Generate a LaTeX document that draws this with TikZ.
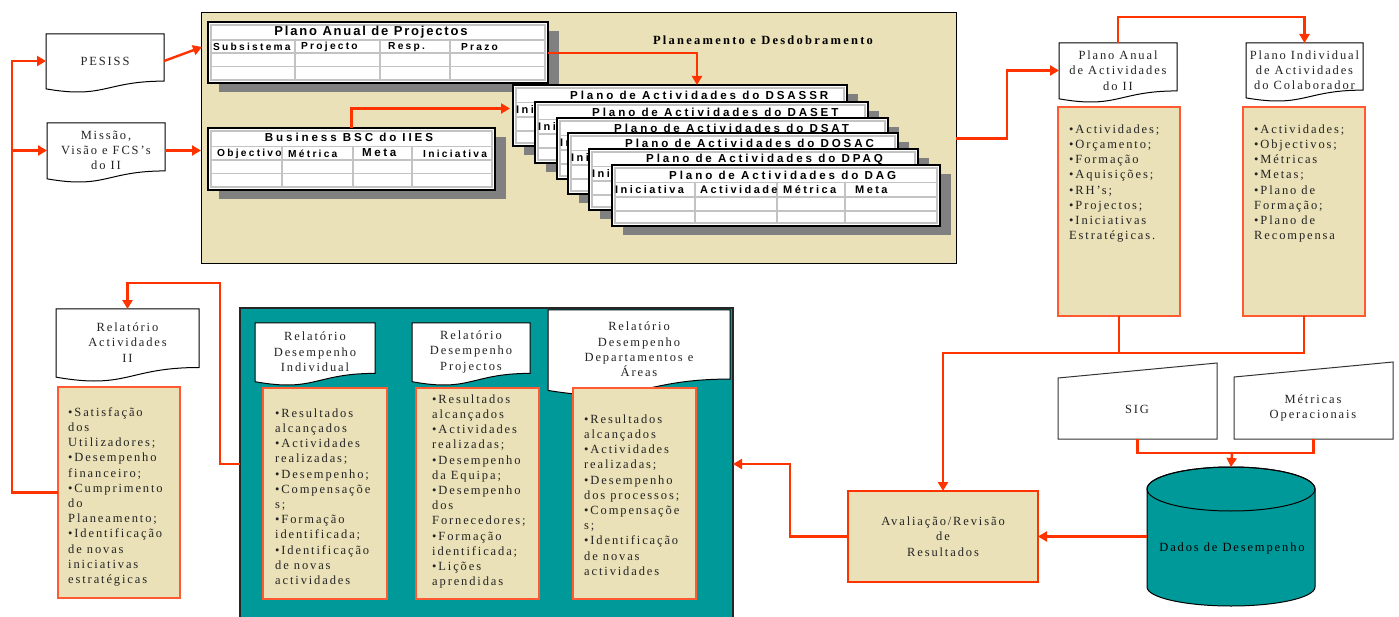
\documentclass[tikz,border=0pt]{standalone}
\usepackage{fontspec}
\setmainfont{Liberation Serif}
\newfontfamily\serifT[LetterSpace=15]{Liberation Serif}
\newfontfamily\serifB[LetterSpace=18]{Liberation Serif}
\newfontfamily\sansT[LetterSpace=25]{Liberation Sans}
\newfontfamily\sansP[LetterSpace=14]{Liberation Sans}
\newfontfamily\sansH[LetterSpace=22]{Liberation Sans}
\usetikzlibrary{arrows.meta,calc}

\definecolor{beige}{RGB}{234,225,184}
\definecolor{connred}{RGB}{255,51,0}
\definecolor{boxorange}{RGB}{255,90,50}
\definecolor{tealfill}{RGB}{0,153,153}
\definecolor{shadowgray}{RGB}{128,128,128}
\definecolor{gridgray}{RGB}{195,195,195}
\definecolor{inkgray}{RGB}{35,35,35}

\tikzset{
  conn/.style={draw=connred, line width=2.4pt, line join=miter},
  arr/.style={-{Triangle[length=9pt,width=10pt]}},
  hit/.style={inner sep=0pt, outer sep=0pt, draw=none, anchor=north west},
  docpath/.style={fill=white, draw=black, line width=1pt},
  serifsmall/.style={font=\serifT\fontsize{12.5}{15.3}\selectfont, text=inkgray},
  doctext/.style={serifsmall, align=center, inner sep=0pt, outer sep=0pt},
  beigebox/.style={fill=beige, draw=boxorange, line width=1.2pt, inner sep=0pt, outer sep=0pt, anchor=north west},
  boxtext/.style={font=\serifT\fontsize{12.5}{15.2}\selectfont, text=inkgray, align=left, inner sep=0pt, anchor=north west},
  planframe/.style={fill=beige, draw=black, line width=1pt, inner sep=0pt, outer sep=0pt, anchor=north west},
  tealframe/.style={fill=tealfill, draw=black!85, line width=1.2pt, inner sep=0pt, outer sep=0pt, anchor=north west},
  avalbox/.style={fill=beige, draw=connred, line width=2.2pt, inner sep=0pt, outer sep=0pt, anchor=north west,
    font=\serifT\fontsize{12.5}{15.5}\selectfont, text=inkgray, align=center},
  titlebold/.style={font=\serifB\bfseries\fontsize{12.5}{14}\selectfont, text=black},
  tabshadow/.style={fill=shadowgray},
  tabframe/.style={fill=white, draw=black, line width=1.1pt},
  tabline/.style={draw=gridgray, line width=1.5pt},
  paptitle/.style={font=\sansP\bfseries\fontsize{13}{15}\selectfont, inner sep=0pt},
  bsctitle/.style={font=\sansT\bfseries\fontsize{11.6}{14}\selectfont, inner sep=0pt},
  headcell/.style={font=\sansH\bfseries\fontsize{10.2}{12}\selectfont, inner sep=0pt, anchor=west},
  stackhead/.style={font=\sansH\bfseries\fontsize{11}{13}\selectfont, inner sep=0pt, anchor=west},
  trap/.style={fill=white, draw=black!80, line width=1pt},
  cyl/.style={fill=tealfill, draw=black, line width=1pt},
}

% document symbol with a wavy lower edge: name, left, top, right, lowest point, text
\newcommand\docnode[6]{%
  \pgfmathsetmacro\docW{#4-#2}%
  \pgfmathsetmacro\docH{(#5-#3)/0.987}%
  \pgfmathsetmacro\docR{#3+0.802*\docH}%
  \pgfmathsetmacro\docC{#3+1.107*\docH}%
  \pgfmathsetmacro\docL{#3+0.934*\docH}%
  \pgfmathsetmacro\docM{#2+0.5*\docW}%
  \pgfmathsetmacro\docY{#3+0.46*\docH}%
  \pgfmathsetmacro\docNH{0.92*\docH}%
  \filldraw[docpath] (#2,#3) -- (#4,#3) -- (#4,\docR)
    .. controls (\docM,\docR) and (\docM,\docC) .. (#2,\docL) -- cycle;
  \node[doctext, minimum width=\docW pt, minimum height=\docNH pt] (#1) at (\docM,\docY) {#6};
}

% table body with shadow and grey cell rules: left, top, right, bottom, title rule, header rule, row rule, columns
\newcommand\tabgrid[8]{%
  \fill[tabshadow] (#1+11,#2+9) rectangle (#3+11,#4+9);
  \filldraw[tabframe] (#1,#2) rectangle (#3,#4);
  \draw[tabline] (#1+3,#2+3) rectangle (#3-3,#4-3);
  \draw[tabline] (#1+3,#5) -- (#3-3,#5) (#1+3,#6) -- (#3-3,#6) (#1+3,#7) -- (#3-3,#7);
  \foreach \colx in {#8} {\draw[tabline] (\colx,#5) -- (\colx,#4-3);}
}

% one activity plan sheet of the stack: name, left, top, right, department
\newcommand\stacktab[5]{%
  \tabgrid{#2}{#3}{#4}{#3+61}{#3+17.5}{#3+32}{#3+46}{#2+83,#2+165,#2+233}
  \node[hit, minimum width=#4-#2, minimum height=61] (#1) at (#2,#3) {};
  \node[bsctitle, anchor=west] (#1title) at (#2+57,#3+10) {Plano de Actividades do #5};
  \node[stackhead] (#1ha) at (#2+3,#3+24.5) {Iniciativa};
}

\begin{document}
\begin{tikzpicture}[x=1pt,y=-1pt]
\useasboundingbox (0,0) rectangle (1399,617);
\fill[white] (0,0) rectangle (1399,617);

% ---------- planning and deployment frame ----------
\node[planframe, minimum width=755, minimum height=251] (frame) at (201,13) {};
\node[titlebold] (ftitle) at (763,40) {Planeamento e Desdobramento};

% annual project plan
\tabgrid{208}{22}{548}{83}{40}{53}{66.5}{295,380,450}
\node[hit, minimum width=340, minimum height=61] (pap) at (208,22) {};
\node[paptitle] (paptitle) at (371,31.7) {Plano Anual de Projectos};
\node[headcell] (papha) at (213,46.7) {Subsistema};
\node[headcell] (paphb) at (301,46.7) {Projecto};
\node[headcell] (paphc) at (388,46.7) {Resp.};
\node[headcell] (paphd) at (461,46.7) {Prazo};

% business balanced scorecard
\tabgrid{208}{128}{495}{190}{146.5}{160}{173.5}{282,353,412}
\node[hit, minimum width=287, minimum height=62] (bsc) at (208,128) {};
\node[bsctitle] (bsctitle) at (349,137.5) {Business BSC do IIES};
\node[headcell] (bscha) at (217,153.5) {Objectivo};
\node[headcell] (bschb) at (288,153.5) {Métrica};
\node[stackhead, font=\sansH\bfseries\fontsize{11.6}{13}\selectfont] (bschc) at (362,152.5) {Meta};
\node[headcell] (bschd) at (423,153.5) {Iniciativa};

% stack of department activity plans, the front sheet with all its headers
\stacktab{dsassr}{513}{85}{847}{DSASSR}
\stacktab{daset}{535}{102}{868}{DASET}
\stacktab{dsat}{557}{118}{888}{DSAT}
\stacktab{dosac}{568}{133}{898}{DOSAC}
\stacktab{dpaq}{589}{149}{918}{DPAQ}
\stacktab{dag}{612}{165}{940}{DAG}
\node[stackhead] (daghb) at (700,189.5) {Actividade};
\node[stackhead] (daghc) at (783,189.5) {Métrica};
\node[stackhead] (daghd) at (855,189.5) {Meta};

% ---------- inputs on the left ----------
\docnode{pesiss}{46}{34}{164}{92}{PESISS}
\docnode{missao}{47}{123}{165}{182}{Missão,\\Visão e FCS’s\\do II}

% ---------- annual and individual activity plans ----------
\docnode{paa}{1059}{43}{1177}{102}{Plano Anual\\de Actividades\\do II}
\docnode{piac}{1246}{43}{1363}{101}{Plano Individual\\de Actividades\\do Colaborador}
\node[beigebox, minimum width=122, minimum height=209] (paabox) at (1058,107) {};
\node[beigebox, minimum width=122, minimum height=209] (piacbox) at (1243,107) {};
\node[boxtext] (paatxt) at (1069,122.5) {\strut•Actividades;\\•Orçamento;\\•Formação\\•Aquisições;\\•RH’s;\\•Projectos;\\•Iniciativas\\Estratégicas.};
\node[boxtext] (piactxt) at (1254,122.5) {\strut•Actividades;\\•Objectivos;\\•Métricas\\•Metas;\\•Plano de\\Formação;\\•Plano de\\Recompensa};

% ---------- data sources ----------
\filldraw[trap] (1058,378) -- (1217,363) -- (1217,439) -- (1058,439) -- cycle;
\node[hit, minimum width=159, minimum height=76] (sig) at (1058,363) {};
\node[serifsmall] (siglabel) at (1137,409) {SIG};
\filldraw[trap] (1234,377) -- (1393,362) -- (1393,439) -- (1234,439) -- cycle;
\node[hit, minimum width=159, minimum height=77] (met) at (1234,362) {};
\node[serifsmall, align=center] (metlabel) at (1313,408) {Métricas\\Operacionais};

\filldraw[cyl] (1147,489) -- (1147,587) arc[start angle=180,end angle=0,x radius=84,y radius=19]
  -- (1315,489) arc[start angle=0,end angle=-180,x radius=84,y radius=22] -- cycle;
\draw[cyl, fill=none] (1231,489) ellipse [x radius=84, y radius=22];
\node[hit, minimum width=168, minimum height=139] (dados) at (1147,467) {};
\node[serifsmall, text=black] (dadoslabel) at (1232,548) {Dados de Desempenho};

% ---------- evaluation ----------
\node[avalbox, minimum width=190, minimum height=91] (aval) at (848,491) {Avaliação/Revisão\\de\\Resultados};

% ---------- performance reports ----------
\node[tealframe, minimum width=493, minimum height=312] (teal) at (240,308) {};
\docnode{relind}{255}{323}{375}{385}{Relatório\\Desempenho\\Individual}
\docnode{relproj}{412}{323}{530}{385}{Relatório\\Desempenho\\Projectos}
\docnode{reldep}{548}{310}{730}{395}{Relatório\\Desempenho\\Departamentos e\\Áreas}
\node[beigebox, minimum width=124, minimum height=211] (relindbox) at (263,388) {};
\node[beigebox, minimum width=123, minimum height=211] (relprojbox) at (416,388) {};
\node[beigebox, minimum width=123, minimum height=211] (reldepbox) at (573,388) {};
\node[boxtext] (relindtxt) at (275,406.5) {\strut•Resultados\\alcançados\\•Actividades\\realizadas;\\•Desempenho;\\•Compensaçõe\\s;\\•Formação\\identificada;\\•Identificação\\de novas\\actividades};
\node[boxtext] (relprojtxt) at (432,392.5) {\strut•Resultados\\alcançados\\•Actividades\\realizadas;\\•Desempenho\\da Equipa;\\•Desempenho\\dos\\Fornecedores;\\•Formação\\identificada;\\•Lições\\aprendidas};
\node[boxtext] (reldeptxt) at (584,412.5) {\strut•Resultados\\alcançados\\•Actividades\\realizadas;\\•Desempenho\\dos processos;\\•Compensaçõe\\s;\\•Identificação\\de novas\\actividades};

\docnode{relii}{56}{309}{199}{381}{Relatório\\Actividades\\II}
\node[beigebox, minimum width=122, minimum height=211] (reliibox) at (58,387) {};
\node[boxtext] (reliitxt) at (68,405.5) {\strut•Satisfação\\dos\\Utilizadores;\\•Desempenho\\financeiro;\\•Cumprimento\\do\\Planeamento;\\•Identificação\\de novas\\iniciativas\\estratégicas};

% ---------- connectors ----------
\coordinate (lbus) at (12,300);
\coordinate (jn) at (943,353);
\coordinate (jn2) at (1232,453);

\draw[conn,arr] (reliibox.west) -- (reliibox.west -| lbus) |- (pesiss.west);
\draw[conn,arr] (missao.west -| lbus) -- (missao.west);
\draw[conn,arr] (pesiss.east) -- ($(pap.west)+(-6,-5.5)$);
\draw[conn,arr] (missao.east) -- (missao.east -| frame.west);
\draw[conn,arr] ($(pap.east)+(0,0.5)$) -| ($(dsassr.north)+(17,0)$);
\draw[conn,arr] (bsc.north) |- ($(dsassr.west)+(-3,-7)$);
\draw[conn,arr] (frame.east) -- ++(51,0) |- (paa.west);
\draw[conn,arr] (paa.north) -- ++(0,-26) -| (piac.north);
\draw[conn] (paabox.south) -- (paabox.south |- jn);
\draw[conn,arr] (piacbox.south) |- (jn) -- (aval.north);
\draw[conn] (sig.south) |- (jn2) -| (met.south);
\draw[conn,arr] (jn2) -- (dados.north);
\draw[conn,arr] (dados.west |- aval.east) -- (aval.east);
\draw[conn,arr] (aval.west) -- ++(-58,0) |- (teal.east);
\draw[conn,arr] (teal.west) -- ++(-20,0) |- ($(relii.north)+(0,-26)$) -- (relii.north);
\end{tikzpicture}
\end{document}
